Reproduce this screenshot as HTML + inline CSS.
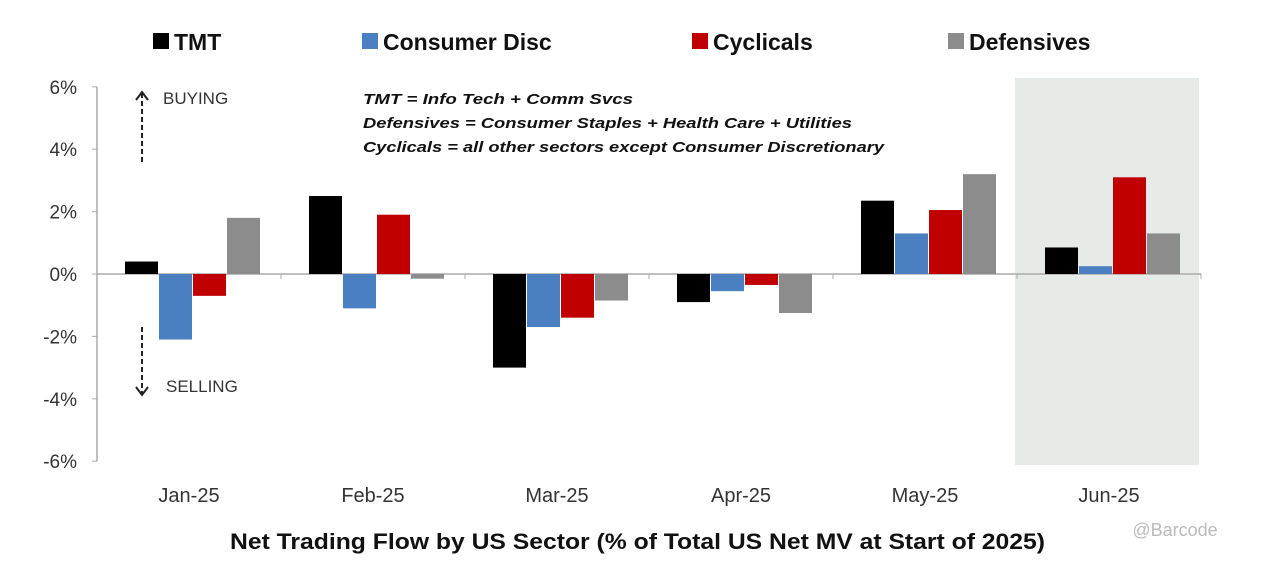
<!DOCTYPE html>
<html><head><meta charset="utf-8"><style>
body{margin:0;background:#fff;width:1265px;height:558px;overflow:hidden;font-family:"Liberation Sans",sans-serif}
</style></head><body>
<svg width="1265" height="558" xmlns="http://www.w3.org/2000/svg">
<g id="legend"></g>
<rect x="1015" y="78" width="184" height="387" fill="#e6ebe7"/>
<g id="axes"></g><g id="bars"></g>
<g font-size="17" fill="#333">
<text x="163" y="104">BUYING</text>
<text x="166" y="392">SELLING</text>
</g>
<line x1="142" y1="162" x2="142" y2="92" stroke="#222" stroke-width="2" stroke-dasharray="5,3"/>
<path d="M136,100 L142,92 L148,100" fill="none" stroke="#222" stroke-width="2"/>
<line x1="142" y1="327" x2="142" y2="395" stroke="#222" stroke-width="2" stroke-dasharray="5,3"/>
<path d="M136,387 L142,395 L148,387" fill="none" stroke="#222" stroke-width="2"/>
<g font-size="15" font-weight="bold" font-style="italic" fill="#111">
<text x="363" y="104" textLength="270" lengthAdjust="spacingAndGlyphs">TMT = Info Tech + Comm Svcs</text>
<text x="363" y="128" textLength="489" lengthAdjust="spacingAndGlyphs">Defensives = Consumer Staples + Health Care + Utilities</text>
<text x="363" y="152" textLength="521" lengthAdjust="spacingAndGlyphs">Cyclicals = all other sectors except Consumer Discretionary</text>
</g>
<text x="230" y="549" font-size="22" font-weight="bold" fill="#111" textLength="815" lengthAdjust="spacingAndGlyphs">Net Trading Flow by US Sector (% of Total US Net MV at Start of 2025)</text>
<text x="1175" y="536" text-anchor="middle" font-size="18" fill="#bbb">@Barcode</text>
</svg>
<script>
const categories=["Jan-25","Feb-25","Mar-25","Apr-25","May-25","Jun-25"];
const seriesNames=["TMT","Consumer Disc","Cyclicals","Defensives"];
const tmt=[0.4,2.5,-3.0,-0.9,2.35,0.85];
const consumerDisc=[-2.1,-1.1,-1.7,-0.55,1.3,0.25];
const cyclicals=[-0.7,1.9,-1.4,-0.35,2.05,3.1];
const defensives=[1.8,-0.15,-0.85,-1.25,3.2,1.3];
const yTicks=[6,4,2,0,-2,-4,-6];
const colors=["#000","#4a7fc1","#c00000","#8c8c8c"];
const NS="http://www.w3.org/2000/svg";
const x0=97,catW=184,y0=274,pp=31.2;
const y=v=>y0-v*pp;
function mk(t,a,p){const e=document.createElementNS(NS,t);for(const k in a)e.setAttribute(k,a[k]);p.appendChild(e);return e;}
const ax=document.getElementById('axes'),bars=document.getElementById('bars'),lg=document.getElementById('legend');
mk('line',{x1:x0,y1:y(6),x2:x0,y2:y(-6),stroke:'#aaa','stroke-width':1.5},ax);
yTicks.forEach(t=>{
 mk('line',{x1:x0-5,y1:y(t),x2:x0,y2:y(t),stroke:'#aaa'},ax);
 const tx=mk('text',{x:x0-20,y:y(t)+7,'text-anchor':'end','font-size':19,fill:'#333'},ax);
 tx.textContent=t+'%';
 
 
});
mk('line',{x1:x0,y1:y0,x2:x0+catW*6,y2:y0,stroke:'#aaa','stroke-width':1.5},ax);
categories.forEach((c,i)=>{
 mk('line',{x1:x0+catW*(i+1),y1:y0,x2:x0+catW*(i+1),y2:y0+5,stroke:'#aaa'},ax);
 const tx=mk('text',{x:x0+catW*i+catW/2,y:502,'text-anchor':'middle','font-size':20,fill:'#333'},ax);
 tx.textContent=c;
 
 
});
[tmt,consumerDisc,cyclicals,defensives].forEach((s,j)=>{
 s.forEach((v,i)=>{
  const bx=x0+catW*i+28+j*34;
  const r=mk('rect',{x:bx,y:Math.min(y(v),y0),width:33,height:Math.abs(y(v)-y0),fill:colors[j]},bars);
  
  
 });
});
const lx=[153,362,692,948];
seriesNames.forEach((n,j)=>{
 const g=mk('g',{},lg);
 
 
 mk('rect',{x:lx[j],y:33,width:16,height:16,fill:colors[j]},g);
 const t=mk('text',{x:lx[j]+21,y:50,'font-size':23,'font-weight':'bold',fill:'#111'},g);
 t.textContent=n;
});
</script>
</body></html>
